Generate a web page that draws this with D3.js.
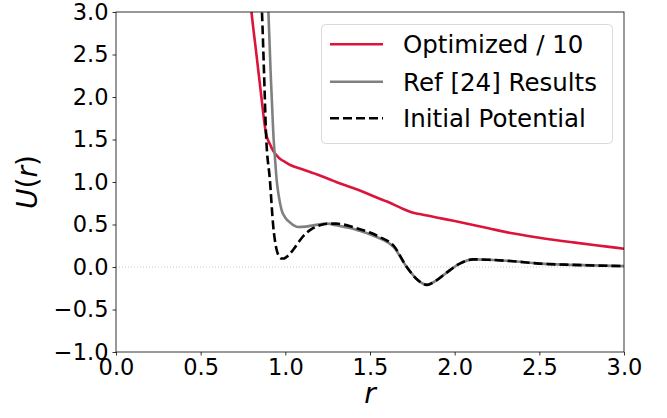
<html>
<head><meta charset="utf-8"></head>
<style>
  html, body { margin: 0; background: #fff; }
  svg { display: block; font-family: "DejaVu Sans", sans-serif; }
</style>
<body>
<svg width="667" height="418"></svg>

<script src="https://cdnjs.cloudflare.com/ajax/libs/d3/7.8.5/d3.min.js"></script>
<script>
  // values
  const optR = [0.78, 0.80, 0.83, 0.855, 0.886, 0.91, 0.93, 0.95, 0.97, 1.0, 1.03, 1.1, 1.2, 1.264, 1.3, 1.4, 1.44, 1.5, 1.6, 1.7, 1.736, 1.8, 1.9, 2.0, 2.2, 2.33, 2.5, 2.7, 2.9, 3.0];
  const optU = [3.4, 3.0, 2.49, 2.06, 1.57, 1.44, 1.36, 1.31, 1.27, 1.235, 1.20, 1.15, 1.08, 1.03, 1.0, 0.93, 0.90, 0.85, 0.77, 0.68, 0.65, 0.62, 0.58, 0.54, 0.455, 0.40, 0.345, 0.29, 0.24, 0.215];

  const refR = [0.89, 0.90, 0.913, 0.929, 0.94, 0.949, 0.96, 0.978, 1.0, 1.03, 1.075, 1.12, 1.165, 1.25, 1.3, 1.4, 1.44, 1.5, 1.56, 1.64, 1.717, 1.78, 1.834, 1.89, 1.95, 2.03, 2.11, 2.2, 2.33, 2.5, 2.7, 3.0];
  const refU = [3.3, 3.0, 2.3, 1.57, 1.25, 1.02, 0.85, 0.67, 0.58, 0.52, 0.47, 0.475, 0.49, 0.51, 0.49, 0.45, 0.425, 0.385, 0.335, 0.235, 0.0, -0.15, -0.21, -0.16, -0.07, 0.04, 0.09, 0.085, 0.07, 0.04, 0.025, 0.01];

  const initR = [0.855, 0.862, 0.874, 0.886, 0.909, 0.929, 0.949, 0.965, 0.978, 0.99, 1.02, 1.06, 1.10, 1.15, 1.205, 1.264, 1.3, 1.4, 1.44, 1.5, 1.56, 1.64, 1.717, 1.78, 1.834, 1.89, 1.95, 2.03, 2.11, 2.2, 2.33, 2.5, 2.7, 3.0];
  const initU = [3.3, 3.0, 2.3, 1.57, 1.02, 0.47, 0.2, 0.12, 0.1, 0.1, 0.14, 0.24, 0.35, 0.44, 0.49, 0.51, 0.51, 0.47, 0.445, 0.405, 0.35, 0.25, 0.0, -0.15, -0.21, -0.16, -0.07, 0.04, 0.09, 0.085, 0.07, 0.04, 0.025, 0.01];

  const xTicks = [0, 0.5, 1.0, 1.5, 2.0, 2.5, 3.0];
  const yTicks = [-1.0, -0.5, 0.0, 0.5, 1.0, 1.5, 2.0, 2.5, 3.0];
  const labels = ["Optimized / 10", "Ref [24] Results", "Initial Potential"];

  // plot box
  const pL = 116, pR = 624, pT = 12, pB = 352;

  const svg = d3.select('svg');
  const x = d3.scaleLinear().domain([0, 3]).range([pL, pR]);
  const y = d3.scaleLinear().domain([-1, 3]).range([pB, pT]);

  svg.append('clipPath').attr('id', 'clip')
    .append('rect').attr('x', pL).attr('y', pT)
    .attr('width', pR - pL).attr('height', pB - pT);

  // dotted zero line
  svg.append('line')
    .attr('x1', pL).attr('x2', pR)
    .attr('y1', y(0)).attr('y2', y(0))
    .attr('stroke', '#c8c8c8').attr('stroke-width', 1)
    .attr('stroke-dasharray', '1,2');

  const line = d3.line()
    .x(d => x(d[0])).y(d => y(d[1]))
    .curve(d3.curveMonotoneX);

  const zip = (a, b) => a.map((v, i) => [v, b[i]]);

  const series = [
    {data: zip(optR, optU), color: '#dc143c', dash: null},
    {data: zip(refR, refU), color: '#808080', dash: null},
    {data: zip(initR, initU), color: '#000', dash: '9,4'}
  ];

  const g = svg.append('g').attr('clip-path', 'url(#clip)');
  series.forEach(s => {
    g.append('path')
      .attr('d', line(s.data))
      .attr('fill', 'none')
      .attr('stroke', s.color)
      .attr('stroke-width', 2.6)
      .attr('stroke-dasharray', s.dash);
  });

  // axes
  const xAxis = svg.append('g')
    .attr('transform', `translate(0,${pB})`)
    .call(d3.axisBottom(x).tickValues(xTicks).tickFormat(d3.format('.1f')).tickSizeOuter(0).tickSize(3.5).tickPadding(4));
  const yAxis = svg.append('g')
    .attr('transform', `translate(${pL},0)`)
    .call(d3.axisLeft(y).tickValues(yTicks).tickFormat(d => d3.format('.1f')(d).replace('-', '\u2212')).tickSizeOuter(0).tickSize(3.5).tickPadding(4));

  [xAxis, yAxis].forEach(a => {
    a.selectAll('text').attr('font-size', 22.5).attr('fill', '#000')
      .attr('font-family', '"DejaVu Sans", sans-serif');
    a.selectAll('line').attr('stroke', '#000').attr('stroke-width', 0.8);
    a.select('.domain').remove();
  });

  // frame
  svg.append('rect')
    .attr('x', pL).attr('y', pT)
    .attr('width', pR - pL).attr('height', pB - pT)
    .attr('fill', 'none').attr('stroke', '#000').attr('stroke-width', 0.8);

  // axis labels
  svg.append('text')
    .attr('x', (pL + pR) / 2).attr('y', 403)
    .attr('text-anchor', 'middle').attr('font-size', 28)
    .attr('font-style', 'italic').text('r');

  const yl = svg.append('text')
    .attr('transform', `translate(37,${(pT + pB) / 2}) rotate(-90)`)
    .attr('text-anchor', 'middle').attr('font-size', 28);
  yl.append('tspan').attr('font-style', 'italic').text('U');
  yl.append('tspan').text('(');
  yl.append('tspan').attr('font-style', 'italic').text('r');
  yl.append('tspan').text(')');

  // legend
  const lg = svg.append('g');
  lg.append('rect')
    .attr('x', 321.5).attr('y', 24.5).attr('width', 291).attr('height', 119)
    .attr('rx', 4).attr('fill', '#fff').attr('fill-opacity', 0.8)
    .attr('stroke', '#d9d9d9').attr('stroke-width', 1);
  const rowY = [44.3, 81.7, 118.3];
  series.forEach((s, i) => {
    lg.append('line')
      .attr('x1', 330).attr('x2', 383)
      .attr('y1', rowY[i]).attr('y2', rowY[i])
      .attr('stroke', s.color).attr('stroke-width', 2.6)
      .attr('stroke-dasharray', s.dash);
    lg.append('text')
      .attr('x', 403).attr('y', rowY[i]).attr('dy', '0.36em')
      .attr('font-size', 24.5).text(labels[i]);
  });
</script>
</body>
</html>
